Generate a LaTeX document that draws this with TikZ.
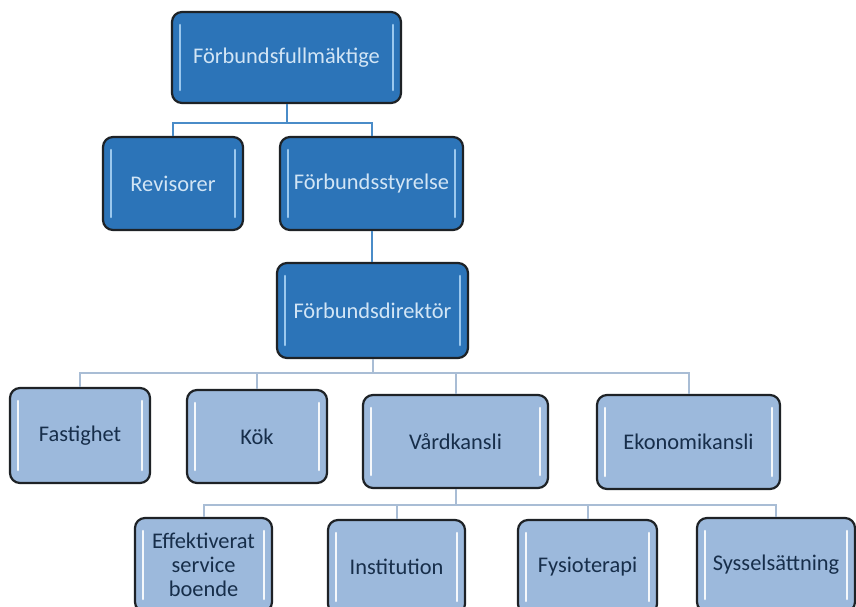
\documentclass[tikz,border=0pt]{standalone}
\usepackage{fontspec}
\setmainfont{Carlito}
\definecolor{darkfill}{HTML}{2C74B8}
\definecolor{darktext}{HTML}{D2E5F5}
\definecolor{darkhl}{HTML}{A8D2F4}
\definecolor{lightfill}{HTML}{9CB9DC}
\definecolor{lighttext}{HTML}{172E4A}
\definecolor{boxborder}{HTML}{1E2226}
\definecolor{linedark}{HTML}{4A8CC8}
\definecolor{linelight}{HTML}{A9BDD5}
\newcommand\boxhighlights[1]{%
  \draw[#1, line width=2.6pt, line cap=round, opacity=0.9]
    ([xshift=8pt,yshift=-13pt]path picture bounding box.north west) --
    ([xshift=8pt,yshift=13pt]path picture bounding box.south west);
  \draw[#1, line width=2.6pt, line cap=round, opacity=0.9]
    ([xshift=-8pt,yshift=-13pt]path picture bounding box.north east) --
    ([xshift=-8pt,yshift=13pt]path picture bounding box.south east);
}
\tikzset{
  orgbox/.style={rounded corners=10pt, draw=boxborder, line width=2.2pt,
    inner sep=2pt, align=center, font=\fontsize{22.4}{24}\selectfont},
  darkbox/.style={orgbox, fill=darkfill, text=darktext,
    path picture={\boxhighlights{darkhl}}},
  lightbox/.style={orgbox, fill=lightfill, text=lighttext,
    path picture={\boxhighlights{white}}},
  topline/.style={draw=linedark, line width=2pt},
  lowline/.style={draw=linelight, line width=2pt},
}
\begin{document}
\begin{tikzpicture}[x=1pt, y=-1pt]
\useasboundingbox (0,0) rectangle (856,607);
\clip (0,0) rectangle (856,607);
\fill[white] (0,0) rectangle (856,607);

% top levels
\node[darkbox, minimum width=229pt, minimum height=91pt] (F) at (286.5,57.5) {Förbundsfullmäktige};
\node[darkbox, minimum width=140pt, minimum height=93pt] (Rev) at (173,183.5) {Revisorer};
\node[darkbox, minimum width=183pt, minimum height=93pt] (Sty) at (371.5,183.5) {Förbundsstyrelse};
\node[darkbox, minimum width=191pt, minimum height=95pt] (Dir) at (372.5,310.5) {Förbundsdirektör};

% third row
\node[lightbox, minimum width=140pt, minimum height=95pt] (Fast) at (80,435.5) {Fastighet};
\node[lightbox, minimum width=140pt, minimum height=93pt] (Kok) at (257,436.5) {Kök};
\node[lightbox, minimum width=185pt, minimum height=93pt] (Vard) at (455.5,441.5) {Vårdkansli};
\node[lightbox, minimum width=183pt, minimum height=94pt] (Eko) at (688.5,442) {Ekonomikansli};

% fourth row
\node[lightbox, minimum width=137pt, minimum height=94pt] (Eff) at (203.5,565) {Effektiverat\\service\\boende};
\node[lightbox, minimum width=137pt, minimum height=94pt] (Inst) at (396.5,567) {Institution};
\node[lightbox, minimum width=139pt, minimum height=94pt] (Fys) at (587.5,567) {Fysioterapi};
\node[lightbox, minimum width=158pt, minimum height=94pt] (Sys) at (776,565) {Sysselsättning};

% connectors
\coordinate (bus1) at (0,123);
\draw[topline] (F.south) -- (F.south |- bus1) -| (Rev.north);
\draw[topline] (F.south |- bus1) -| (Sty.north);
\draw[topline] (Sty.south) -- (Sty.south |- Dir.north);

\coordinate (bus2) at (0,373);
\draw[lowline] (Dir.south) -- (Dir.south |- bus2) -| (Fast.north);
\draw[lowline] (Dir.south |- bus2) -| (Kok.north);
\draw[lowline] (Dir.south |- bus2) -| (Vard.north);
\draw[lowline] (Dir.south |- bus2) -| (Eko.north);

\coordinate (bus3) at (0,505);
\draw[lowline] (Vard.south) -- (Vard.south |- bus3) -| (Eff.north);
\draw[lowline] (Vard.south |- bus3) -| (Inst.north);
\draw[lowline] (Vard.south |- bus3) -| (Fys.north);
\draw[lowline] (Vard.south |- bus3) -| (Sys.north);
\end{tikzpicture}
\end{document}
